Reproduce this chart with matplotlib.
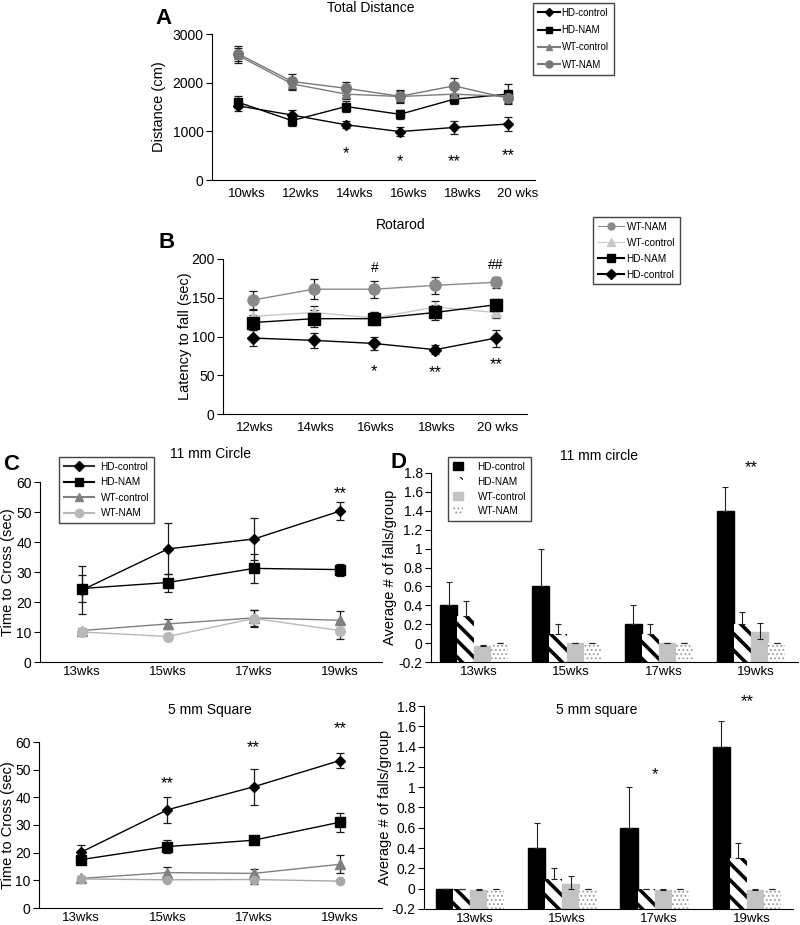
#!/usr/bin/env python3
# plot.py - figura HD / NAM: distancia, rotarod, beam walk

import numpy as np
from matplotlib import pyplot as plt
from matplotlib.patches import Patch
from matplotlib.lines import Line2D

plt.rcParams['font.family'] = ['Liberation Sans', 'DejaVu Sans']

W, H = 800, 925

###############################################################################
# datos

# A - Total Distance
a_weeks = ['10wks', '12wks', '14wks', '16wks', '18wks', '20 wks']
a_hd_ctrl = [1525, 1335, 1135, 995, 1080, 1150]
a_hd_ctrl_err = [110, 100, 70, 90, 130, 140]
a_hd_nam = [1600, 1220, 1510, 1350, 1660, 1765]
a_hd_nam_err = [120, 110, 120, 90, 100, 200]
a_wt_ctrl = [2560, 1975, 1765, 1715, 1765, 1715]
a_wt_ctrl_err = [150, 120, 100, 120, 150, 100]
a_wt_nam = [2595, 2025, 1885, 1720, 1935, 1680]
a_wt_nam_err = [160, 150, 130, 130, 170, 100]
a_stars = ['', '', '*', '*', '**', '**']
a_star_y = [0, 0, 540, 380, 380, 500]

# B - Rotarod
b_weeks = ['12wks', '14wks', '16wks', '18wks', '20 wks']
b_wt_nam = [147, 161, 161, 166, 170]
b_wt_nam_err = [12, 13, 11, 11, 7]
b_wt_ctrl = [126, 131, 124, 138, 131]
b_wt_ctrl_err = [8, 8, 7, 8, 7]
b_hd_nam = [118, 123, 123, 131, 141]
b_hd_nam_err = [10, 11, 8, 10, 8]
b_hd_ctrl = [98, 95, 91, 83, 98]
b_hd_ctrl_err = [10, 10, 9, 6, 11]
b_stars = ['', '', '*', '**', '**']
b_star_y = [0, 0, 55, 53, 64]
b_hash = ['', '', '#', '', '##']
b_hash_y = [0, 0, 188, 0, 192]

# C - Time to cross
c_weeks = ['13wks', '15wks', '17wks', '19wks']
c1_hd_ctrl = [24.0, 37.7, 41.0, 50.3]
c1_hd_ctrl_err = [8.0, 8.5, 7.0, 3.0]
c1_hd_nam = [24.5, 26.5, 31.2, 30.8]
c1_hd_nam_err = [4.5, 3.0, 4.8, 2.0]
c1_wt_ctrl = [10.5, 12.7, 14.7, 13.9]
c1_wt_ctrl_err = [0.8, 1.6, 2.7, 3.0]
c1_wt_nam = [10.0, 8.5, 14.5, 10.5]
c1_wt_nam_err = [0.5, 1.0, 2.8, 2.8]
c1_stars = ['', '', '', '**']
c1_star_y = [0, 0, 0, 56]

c2_hd_ctrl = [20.2, 35.5, 43.8, 53.3]
c2_hd_ctrl_err = [2.6, 4.6, 6.6, 2.8]
c2_hd_nam = [17.5, 22.2, 24.5, 31.0]
c2_hd_nam_err = [1.0, 2.4, 1.2, 3.5]
c2_wt_ctrl = [10.7, 12.8, 12.5, 15.8]
c2_wt_ctrl_err = [1.0, 2.1, 1.5, 3.2]
c2_wt_nam = [10.5, 10.2, 10.3, 9.7]
c2_wt_nam_err = [0.5, 0.5, 1.6, 0.3]
c2_stars = ['', '**', '**', '**']
c2_star_y = [0, 45, 58, 65]

# D - falls per group
d_groups = ['HD-control', 'HD-NAM', 'WT-control', 'WT-NAM']
d1_vals = [[0.40, 0.60, 0.20, 1.40],
           [0.29, 0.10, 0.10, 0.20],
           [-0.03, 0.0, 0.0, 0.12],
           [0.0, 0.0, 0.0, 0.0]]
d1_err_hi = [[0.25, 0.40, 0.20, 0.25],
             [0.16, 0.10, 0.10, 0.13],
             [0.005, 0.0, 0.0, 0.09],
             [0.0, 0.0, 0.0, 0.0]]
d1_err_lo = [[0, 0, 0, 0],
             [0, 0, 0, 0],
             [0, 0, 0, 0.08],
             [0, 0, 0, 0]]
d1_stars = ['', '', '', '**']
d1_star_y = [0, 0, 0, 1.86]

d2_vals = [[0.0, 0.40, 0.60, 1.40],
           [0.0, 0.10, 0.0, 0.30],
           [-0.01, 0.05, -0.01, -0.01],
           [0.0, 0.0, 0.0, 0.0]]
d2_err_hi = [[0.0, 0.25, 0.40, 0.25],
             [0.0, 0.10, 0.0, 0.15],
             [0.005, 0.08, 0.005, 0.005],
             [0.0, 0.0, 0.0, 0.0]]
d2_err_lo = [[0, 0, 0, 0],
             [0, 0, 0, 0],
             [0, 0.05, 0, 0],
             [0, 0, 0, 0]]
d2_stars = ['', '', '*', '**']
d2_star_y = [0, 0, 1.12, 1.84]

###############################################################################

def box(l, t, r, b):
  # pixeles -> fraccion de figura
  return [l / W, 1 - b / H, (r - l) / W, (b - t) / H]

def ftext(x, y, s, **kw):
  fig.text(x / W, 1 - y / H, s, ha='center', va='center', **kw)

def estilo(ax, ylabel, xlab_px, left_px, right_px):
  ax.spines['top'].set_visible(False)
  ax.spines['right'].set_visible(False)
  ax.tick_params(axis='x', length=0, labelsize=9.5, pad=3)
  ax.tick_params(axis='y', direction='out', length=4, labelsize=10, pad=2)
  ax.set_ylabel(ylabel, fontsize=10.5)
  ax.yaxis.set_label_coords((xlab_px - left_px) / (right_px - left_px), 0.5)

def leyenda(h, labels, x_px, y_px, **kw):
  opts = dict(loc='upper left', bbox_to_anchor=(x_px / W, 1 - y_px / H),
              borderaxespad=0, fontsize=7.2, fancybox=False,
              edgecolor='#444444', framealpha=1)
  opts.update(kw)
  fig.legend(h, labels, **opts)

def serie(ax, x, y, e, marker, color, ms, lw=1.0):
  ax.errorbar(x, y, yerr=e, marker=marker, color=color, ms=ms, lw=lw,
              ecolor='#1a1a1a', elinewidth=0.9, capsize=3, capthick=0.9,
              mec=color, mfc=color)

def estrellas(ax, x, marks, ys, size=12):
  for xi, m, yi in zip(x, marks, ys):
    if m:
      ax.text(xi, yi, m, ha='center', va='center', fontsize=size,
              clip_on=False)

fig = plt.figure(figsize=(8, 9.25), dpi=100)

#%% A
ax = fig.add_axes(box(212, 34, 535, 180))
x = np.arange(len(a_weeks))
serie(ax, x, a_hd_ctrl, a_hd_ctrl_err, 'D', 'black', 5)
serie(ax, x, a_hd_nam, a_hd_nam_err, 's', 'black', 6)
serie(ax, x, a_wt_ctrl, a_wt_ctrl_err, '^', '#7d7d7d', 6)
serie(ax, x, a_wt_nam, a_wt_nam_err, 'o', '#767676', 7)
estrellas(ax, x, a_stars, a_star_y)
ax.set_xlim(-0.48, 5.5)
ax.set_ylim(0, 3000)
ax.set_yticks([0, 1000, 2000, 3000])
ax.set_xticks(x + 0.17)
ax.set_xticklabels(a_weeks)
estilo(ax, 'Distance (cm)', 166, 212, 535)
ax.tick_params(axis='x', pad=6)
h = [Line2D([], [], color='black', marker='D', ms=4),
     Line2D([], [], color='black', marker='s', ms=5),
     Line2D([], [], color='#7d7d7d', marker='^', ms=5),
     Line2D([], [], color='#767676', marker='o', ms=5)]
leyenda(h, ['HD-control', 'HD-NAM', 'WT-control', 'WT-NAM'], 533, 3,
        fontsize=7, handlelength=2.3, labelspacing=0.75, borderpad=0.5,
        handletextpad=0.15)
ftext(371, 8, 'Total Distance', fontsize=10)
ftext(163, 18, 'A', fontsize=16, fontweight='bold')

#%% B
ax = fig.add_axes(box(223, 259, 527, 414))
x = np.arange(len(b_weeks))
serie(ax, x, b_wt_nam, b_wt_nam_err, 'o', '#8a8a8a', 8)
serie(ax, x, b_wt_ctrl, b_wt_ctrl_err, '^', '#c8c8c8', 7)
serie(ax, x, b_hd_nam, b_hd_nam_err, 's', 'black', 8)
serie(ax, x, b_hd_ctrl, b_hd_ctrl_err, 'D', 'black', 6)
estrellas(ax, x, b_stars, b_star_y)
estrellas(ax, x, b_hash, b_hash_y, size=10)
ax.set_xlim(-0.49, 4.51)
ax.set_ylim(0, 200)
ax.set_yticks([0, 50, 100, 150, 200])
ax.set_xticks(x + 0.03)
ax.set_xticklabels(b_weeks)
estilo(ax, 'Latency to fall (sec)', 192, 223, 527)
ax.tick_params(axis='x', pad=6)
h = [Line2D([], [], color='#8a8a8a', marker='o', ms=5, lw=0.8),
     Line2D([], [], color='#c8c8c8', marker='^', ms=6, lw=0.8),
     Line2D([], [], color='black', marker='s', ms=6),
     Line2D([], [], color='black', marker='D', ms=5)]
leyenda(h, ['WT-NAM', 'WT-control', 'HD-NAM', 'HD-control'], 593, 217,
        handlelength=2.6, labelspacing=0.6, borderpad=0.45,
        handletextpad=0.3)
ftext(401, 225, 'Rotarod', fontsize=10)
ftext(167, 243, 'B', fontsize=16, fontweight='bold')

#%% C arriba
ax = fig.add_axes(box(40, 482, 382, 662))
x = np.arange(len(c_weeks))
serie(ax, x, c1_hd_ctrl, c1_hd_ctrl_err, 'D', 'black', 5)
serie(ax, x, c1_hd_nam, c1_hd_nam_err, 's', 'black', 7)
serie(ax, x, c1_wt_ctrl, c1_wt_ctrl_err, '^', '#808080', 7)
serie(ax, x, c1_wt_nam, c1_wt_nam_err, 'o', '#b9b9b9', 7)
estrellas(ax, x, c1_stars, c1_star_y)
ax.set_xlim(-0.49, 3.49)
ax.set_ylim(0, 60)
ax.set_yticks(range(0, 61, 10))
ax.set_xticks(x)
ax.set_xticklabels(c_weeks)
estilo(ax, 'Time to Cross (sec)', 15, 40, 382)
h = [Line2D([], [], color='#333333', marker='D', ms=5, mfc='black',
            mec='black'),
     Line2D([], [], color='black', marker='s', ms=6),
     Line2D([], [], color='#808080', marker='^', ms=6),
     Line2D([], [], color='#b9b9b9', marker='o', ms=6)]
leyenda(h, ['HD-control', 'HD-NAM', 'WT-control', 'WT-NAM'], 59, 457,
        handlelength=3.0, labelspacing=0.55, borderpad=0.45,
        handletextpad=0.7)
ftext(211, 454, '11 mm Circle', fontsize=10)
ftext(11, 464, 'C', fontsize=16, fontweight='bold')

#%% C abajo
ax = fig.add_axes(box(39, 742, 382, 908))
serie(ax, x, c2_hd_ctrl, c2_hd_ctrl_err, 'D', 'black', 5)
serie(ax, x, c2_hd_nam, c2_hd_nam_err, 's', 'black', 7)
serie(ax, x, c2_wt_ctrl, c2_wt_ctrl_err, '^', '#808080', 7)
serie(ax, x, c2_wt_nam, c2_wt_nam_err, 'o', '#a8a8a8', 6)
estrellas(ax, x, c2_stars, c2_star_y)
ax.set_xlim(-0.49, 3.49)
ax.set_ylim(0, 60)
ax.set_yticks(range(0, 61, 10))
ax.set_xticks(x)
ax.set_xticklabels(c_weeks)
estilo(ax, 'Time to Cross (sec)', 15, 39, 382)
ftext(210, 710, '5 mm Square', fontsize=10)

#%% D
estilos_barra = [
  dict(facecolor='black', edgecolor='black'),
  dict(facecolor='white', edgecolor='black', hatch='\\\\', lw=0),
  dict(facecolor='#c3c3c3', edgecolor='#c3c3c3'),
  dict(facecolor='white', edgecolor='#9a9a9a', hatch='....', lw=0),
]
grosor_hatch = [1, 2.6, 1, 0.8]

def barras(ax, vals, hi, lo, marks, ys, left_px, right_px, lab_px):
  x = np.arange(len(c_weeks))
  wd = 0.185
  for i, (v, sty) in enumerate(zip(vals, estilos_barra)):
    plt.rcParams['hatch.linewidth'] = grosor_hatch[i]
    pos = x + (i - 1.5) * wd
    v = np.array(v)
    ax.bar(pos, v + 0.2, bottom=-0.2, width=wd, **sty)
    ax.errorbar(pos, v, yerr=[lo[i], hi[i]], fmt='none', ecolor='#222222',
                elinewidth=0.8, capsize=2.5, capthick=0.8)
  estrellas(ax, x, marks, ys)
  ax.set_ylim(-0.2, 1.8)
  ax.set_yticks(np.arange(-0.2, 1.81, 0.2))
  ax.set_yticklabels(['-0.2', '0', '0.2', '0.4', '0.6', '0.8', '1', '1.2',
                      '1.4', '1.6', '1.8'])
  ax.set_xticks(x + 0.05)
  ax.set_xticklabels(c_weeks)
  estilo(ax, 'Average # of falls/group', lab_px, left_px, right_px)

ax = fig.add_axes(box(431, 473, 798, 662))
barras(ax, d1_vals, d1_err_hi, d1_err_lo, d1_stars, d1_star_y, 431, 798, 397)
ax.set_xlim(-0.47, 3.51)
h = []
for s, g in zip(estilos_barra, grosor_hatch):
  plt.rcParams['hatch.linewidth'] = g
  h.append(Patch(**s))
leyenda(h, d_groups, 448, 457,
        handlelength=1.0, handleheight=0.9, labelspacing=0.5,
        borderpad=0.45, handletextpad=1.5)
ftext(599, 456, '11 mm circle', fontsize=10)
ftext(398, 462, 'D', fontsize=16, fontweight='bold')

ax = fig.add_axes(box(424, 706, 793, 909))
barras(ax, d2_vals, d2_err_hi, d2_err_lo, d2_stars, d2_star_y, 424, 793, 392)
ax.set_xlim(-0.5, 3.5)
ftext(597, 710, '5 mm square', fontsize=10)

plt.savefig('out.png', dpi=100)
